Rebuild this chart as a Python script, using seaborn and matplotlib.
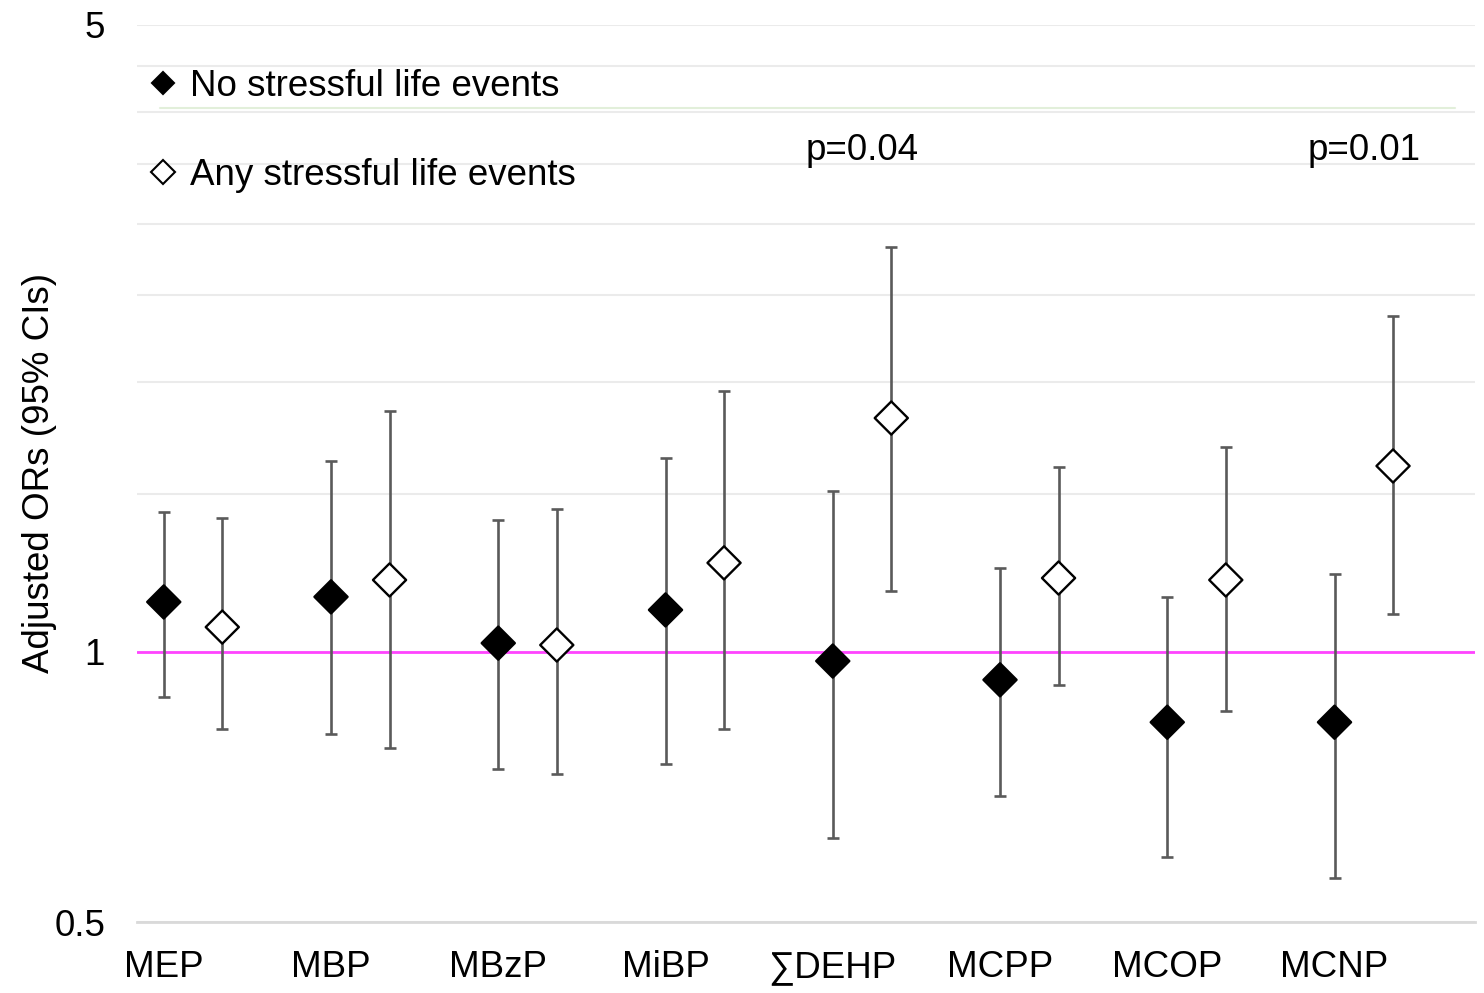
import numpy as np
import pandas as pd
import matplotlib
matplotlib.use("Agg")
import matplotlib.pyplot as plt
import seaborn as sns
from matplotlib.lines import Line2D

# ---------------- data ----------------
categories = ["MEP", "MBP", "MBzP", "MiBP", "∑DEHP", "MCPP", "MCOP", "MCNP"]
series_labels = ["No stressful life events", "Any stressful life events"]

no_or = [1.137, 1.152, 1.023, 1.114, 0.977, 0.931, 0.835, 0.835]
no_lo = [0.891, 0.810, 0.741, 0.750, 0.620, 0.691, 0.591, 0.560]
no_hi = [1.432, 1.633, 1.403, 1.645, 1.511, 1.241, 1.152, 1.222]

any_or = [1.066, 1.203, 1.018, 1.257, 1.823, 1.209, 1.203, 1.612]
any_lo = [0.821, 0.782, 0.731, 0.821, 1.170, 0.919, 0.860, 1.102]
any_hi = [1.411, 1.856, 1.443, 1.954, 2.830, 1.608, 1.693, 2.370]

p_categories = ["∑DEHP", "MCNP"]
p_labels = ["p=0.04", "p=0.01"]
p_level = 3.62

y_ticks = [0.5, 1.0, 1.5, 2.0, 2.5, 3.0, 3.5, 4.0, 4.5, 5.0]
y_tick_labels = ["0.5", "1", "", "", "", "", "", "", "", "5"]
y_label = "Adjusted ORs (95% CIs)"

# ---------------- style ----------------
sns.set_style("white")
plt.rcParams["font.family"] = ["Liberation Sans", "DejaVu Sans"]
plt.rcParams["text.color"] = "black"
plt.rcParams["axes.labelcolor"] = "black"
FS = 26.5

W, H = 1484, 993
fig = plt.figure(figsize=(W / 100, H / 100), dpi=100)
L, R, T, B = 137, 1475, 25, 922
ax = fig.add_axes([L / W, 1 - B / H, (R - L) / W, (B - T) / H])

offset = 0.35
base = np.arange(1, len(categories) + 1)
df = pd.DataFrame({
    "pos": np.concatenate([base, base + offset]),
    "OR": np.array(no_or + any_or),
    "lo": np.array(no_lo + any_lo),
    "hi": np.array(no_hi + any_hi),
    "group": [series_labels[0]] * len(categories) + [series_labels[1]] * len(categories),
})

ax.set_yscale("log")

# error bars
ax.errorbar(df["pos"], df["OR"],
            yerr=[df["OR"] - df["lo"], df["hi"] - df["OR"]],
            fmt="none", ecolor="#5a5a5a", elinewidth=1.9,
            capsize=4.3, capthick=1.9, zorder=3)

# points
sns.scatterplot(data=df, x="pos", y="OR", hue="group",
                palette={series_labels[0]: "black", series_labels[1]: "white"},
                marker="D", s=285, edgecolor="black", linewidth=1.7,
                legend=False, ax=ax, zorder=4)

# reference line at OR = 1
ax.axhline(1.0, color="#ff44ff", lw=2, zorder=2)
# faint green line near top
ax.axhline(4.04, xmin=0.017, xmax=0.985, color="#e2efda", lw=1.5, zorder=1.5)

ax.set_ylim(0.5, 5)
ax.set_xlim(0.84, 8.84)
ax.set_yticks(y_ticks)
ax.set_yticklabels(y_tick_labels)
ax.yaxis.set_minor_locator(matplotlib.ticker.NullLocator())
ax.set_xticks(base)
ax.set_xticklabels(categories)
ax.tick_params(axis="both", length=0, labelsize=FS, colors="black")
ax.tick_params(axis="y", pad=23)
ax.tick_params(axis="x", pad=20)
ax.set_xlabel("")
ax.set_ylabel(y_label, fontsize=FS, color="black")
ax.yaxis.set_label_coords(-0.06, 0.5)

ax.grid(axis="y", color="#ebebeb", lw=1.5, zorder=0)
ax.grid(axis="x", visible=False)
ax.set_axisbelow(True)
for s in ["top", "left", "right"]:
    ax.spines[s].set_visible(False)
ax.spines["bottom"].set_color("#d9d9d9")
ax.spines["bottom"].set_linewidth(2)

# p-values
for cat, lab in zip(p_categories, p_labels):
    i = categories.index(cat) + 1
    ax.text(i + offset / 2, p_level, lab, ha="center", va="center",
            fontsize=FS, color="black")

# legend
handles = [
    Line2D([], [], ls="none", marker="D", ms=11, mfc="black", mec="black", mew=1.5),
    Line2D([], [], ls="none", marker="D", ms=12, mfc="white", mec="black", mew=1.5),
]
ax.legend(handles, series_labels, loc="upper left",
          bbox_to_anchor=(148 / W, 1 - 69 / H), bbox_transform=fig.transFigure,
          frameon=False, fontsize=FS, handlelength=0.8, handletextpad=0.35,
          labelspacing=1.47, borderpad=0, borderaxespad=0, labelcolor="black")

fig.savefig("out.png", dpi=100)
